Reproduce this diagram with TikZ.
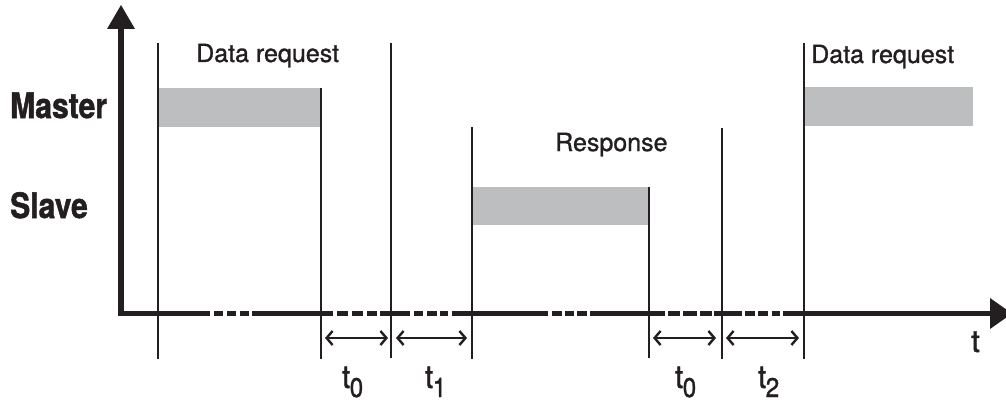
\documentclass[tikz,border=0pt]{standalone}
\usepackage{fontspec}
\setmainfont{TeX Gyre Heros}
\newfontfamily\medfont[FakeBold=1.2]{TeX Gyre Heros}
\newfontfamily\heavyfont[FakeBold=1.5]{TeX Gyre Heros Bold}
\usetikzlibrary{arrows.meta}
\definecolor{ink}{RGB}{35,31,32}
\definecolor{bargray}{RGB}{188,190,192}
\tikzset{
  axisline/.style={ink, line width=5pt, line cap=butt},
  vline/.style={ink, line width=2.3pt},
  bar/.style={fill=bargray, draw=none},
  span/.style={ink, line width=2.4pt, {Straight Barb[length=6pt,width=14pt,line width=2.4pt]}-{Straight Barb[length=6pt,width=14pt,line width=2.4pt]}},
  lbl/.style={inner sep=0pt, anchor=base west, text=ink},
}
\newcommand{\bigrole}[1]{\fontsize{35}{35}\heavyfont\scalebox{0.86}[1]{#1}}
\newcommand{\tlab}[1]{\fontsize{32}{32}\medfont\scalebox{0.9}[1]{t}\kern-0.5pt\raisebox{-9pt}{\fontsize{27}{27}\medfont\scalebox{0.9}[1]{#1}}}
\begin{document}
\begin{tikzpicture}[x=1pt,y=-1pt]
\useasboundingbox (0,0) rectangle (1006,401);
\clip (0,0) rectangle (1006,401);
% grey bars
\fill[bar] (158,88) rectangle (320,127);
\fill[bar] (472,187) rectangle (649,225);
\fill[bar] (804,87) rectangle (973,126);
% vertical time lines
\draw[vline] (158,43) -- (158,359);
\draw[vline] (321,88) -- (321,359);
\draw[vline] (391,43) -- (391,358);
\draw[vline] (472,127) -- (472,359);
\draw[vline] (649,187) -- (649,358);
\draw[vline] (722,128) -- (722,359);
\draw[vline] (804,43) -- (804,359);
% vertical axis
\draw[ink, line width=5.5pt] (121,316) -- (121,27);
\fill[ink] (107,29) -- (135,29) -- (121,5) -- cycle;
% horizontal axis with dashed stretches
\foreach \a/\b in {118/210,214/223,227/236,240/249,252/333,337/348,352/363,367/377,
  380/410,414/423,427/437,440/448,452/548,552/562,565/574,577/587,590/665,668/680,
  683/697,700/712,714/742,745/755,758/768,772/780,783/992}
  \draw[axisline] (\a,313.5) -- (\b,313.5);
\fill[ink] (990,298) -- (990,329) -- (1012,313.5) -- cycle;
% interval arrows
\coordinate (a1) at (325,338); \coordinate (b1) at (388,338);
\coordinate (a2) at (396,338); \coordinate (b2) at (467,338);
\coordinate (a3) at (653,338); \coordinate (b3) at (716,338);
\coordinate (a4) at (726,338); \coordinate (b4) at (799,338);
\draw[span] (a1) -- (b1);
\draw[span] (a2) -- (b2);
\draw[span] (a3) -- (b3);
\draw[span] (a4) -- (b4);
% labels
\node[lbl] (master) at (10,118) {\bigrole{Master}};
\node[lbl] (slave) at (10,218) {\bigrole{Slave}};
\node[lbl] (req1) at (196,62) {\fontsize{25}{25}\medfont Data request};
\node[lbl] (resp) at (555,151) {\fontsize{25}{25}\medfont Response};
\node[lbl] (req2) at (811,63) {\fontsize{25}{25}\medfont Data request};
\node[lbl] (tax) at (971,352) {\fontsize{31}{31}\medfont t};
\node[lbl] (l1) at (342,388) {\tlab{0}};
\node[lbl] (l2) at (425,388) {\tlab{1}};
\node[lbl] (l3) at (675,388) {\tlab{0}};
\node[lbl] (l4) at (758,388) {\tlab{2}};
\end{tikzpicture}
\end{document}
